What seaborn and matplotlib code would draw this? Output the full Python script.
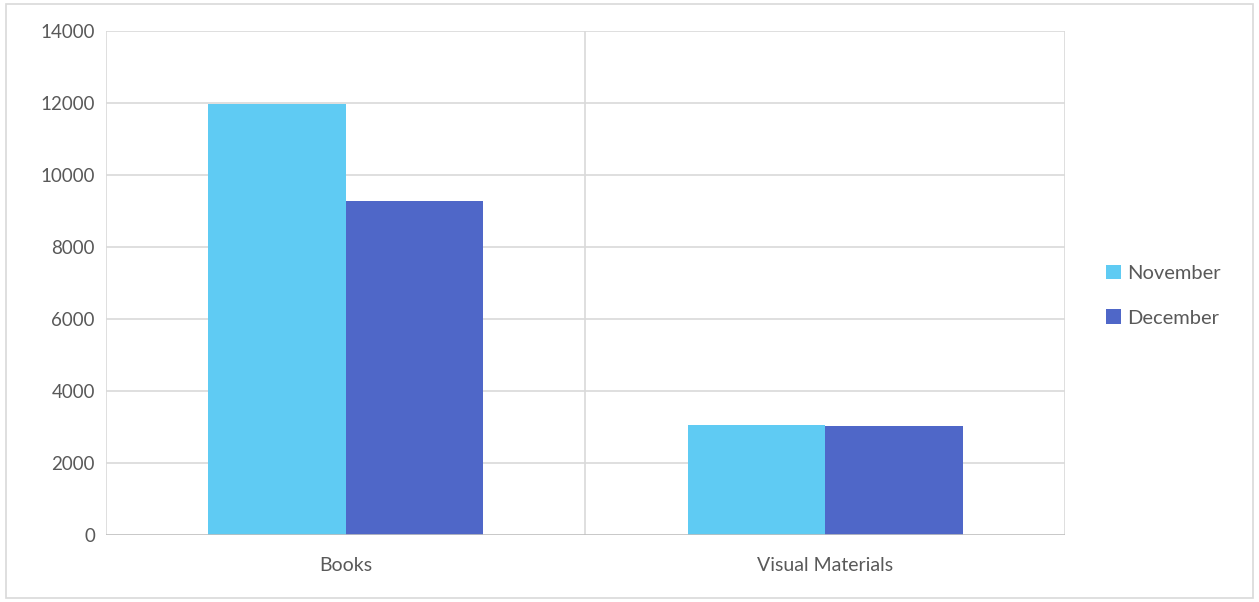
import pandas as pd
import seaborn as sns
import matplotlib.pyplot as plt
from matplotlib.patches import Rectangle

categories = ['Books', 'Visual Materials']
november = [11970, 3055]
december = [9280, 3035]
months = ['November', 'December']

df = pd.DataFrame({
    'category': categories * 2,
    'month': ['November'] * 2 + ['December'] * 2,
    'value': november + december,
})

sns.set_theme(style='white')
plt.rcParams['font.family'] = ['Lato', 'DejaVu Sans']

fig = plt.figure(figsize=(12.59, 6.02), dpi=100)
ax = fig.add_axes([0.0842, 0.1113, 0.7617, 0.8372])

colors = {'November': '#5FCBF3', 'December': '#4F67C8'}
sns.barplot(data=df, x='category', y='value', hue='month', hue_order=months,
            palette=colors, width=0.574, saturation=1, linewidth=0,
            ax=ax, zorder=3)

ax.set_ylim(0, 14000)
ax.set_xlim(-0.5, 1.5)
ax.set_yticks(range(0, 14001, 2000))
ax.set_xlabel('')
ax.set_ylabel('')
ax.tick_params(axis='y', length=0, labelsize=13.5, labelcolor='#595959', pad=8)
ax.tick_params(axis='x', length=0, labelsize=14, labelcolor='#595959', pad=16)

grid = '#D9D9D9'
for y in range(2000, 14001, 2000):
    ax.axhline(y, color=grid, lw=1.2, zorder=1)
for x in [-0.5, 0.5, 1.5]:
    ax.axvline(x, color=grid, lw=1.2, zorder=1)
for s in ax.spines.values():
    s.set_visible(False)
ax.axhline(0, color='#BFBFBF', lw=1.2, zorder=4)

handles, labels = ax.get_legend_handles_labels()
ax.legend(handles, labels, loc='center left', bbox_to_anchor=(1.024, 0.475),
          frameon=False, fontsize=14.5, handlelength=0.75, handleheight=0.75,
          handletextpad=0.3, labelspacing=1.35, labelcolor='#595959')

fig.patches.append(Rectangle((0.005, 0.006), 0.99, 0.988, transform=fig.transFigure,
                             fill=False, edgecolor='#D9D9D9', lw=1.2))

fig.savefig('out.png', dpi=100)
